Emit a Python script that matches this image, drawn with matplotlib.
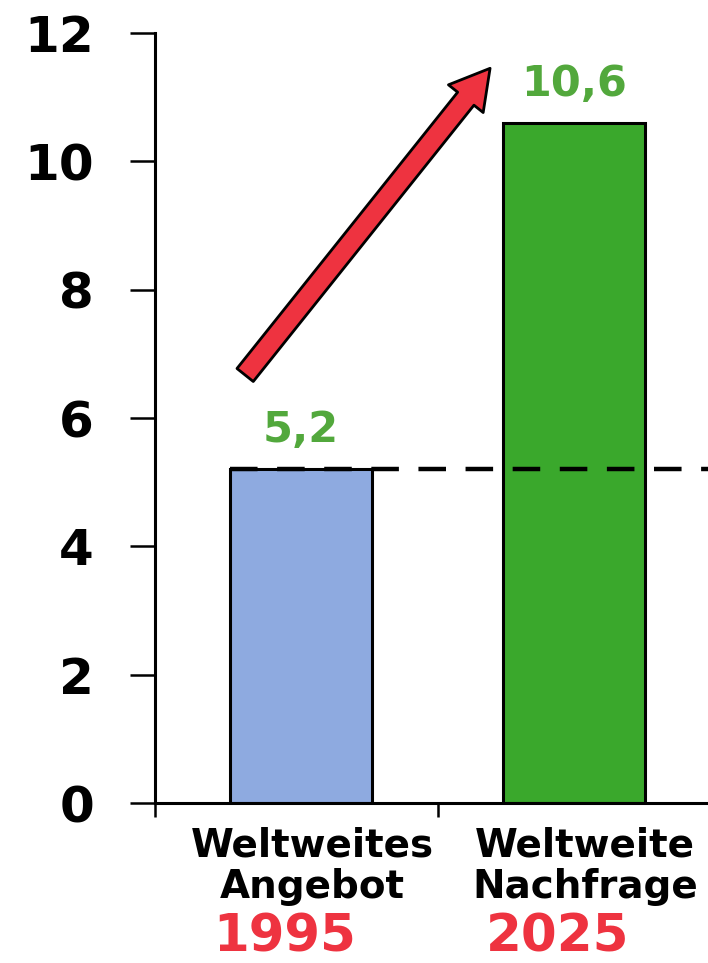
import matplotlib.pyplot as plt
from matplotlib.patches import FancyArrowPatch, ArrowStyle

# data
categories = ["Weltweites\nAngebot", "Weltweite\nNachfrage"]
years = ["1995", "2025"]
values = [5.2, 10.6]
value_labels = ["5,2", "10,6"]
yticks = [0, 2, 4, 6, 8, 10, 12]

bar_colors = ["#8eaae0", "#3aa82c"]
green_txt = "#52a83c"
red = "#ee3340"

fig = plt.figure(figsize=(7.08, 9.63), dpi=100)
ax = fig.add_axes([155 / 708, 1 - 803 / 963, 1 - 155 / 708, (803 - 33) / 963])

x = list(range(len(values)))
ax.bar(x, values, width=0.52, color=bar_colors, edgecolor="black", linewidth=2.2, zorder=2)

xlim = (-0.535, 1.49)
ax.set_xlim(*xlim)
ax.set_ylim(0, 12)

# dashed reference line at the 1995 level
ax.plot([x[0] - 0.26, xlim[1]], [values[0], values[0]], color="black", lw=3.2,
        dashes=(6.2, 4.4), zorder=3, solid_capstyle="butt")

for xi, v, lab in zip(x, values, value_labels):
    ax.annotate(lab, (xi, v), xytext=(0, 13), textcoords="offset points",
                ha="center", va="bottom", color=green_txt, fontsize=31,
                fontweight="bold", family="DejaVu Sans")

# category and year labels under the axis
for xi, cat, yr in zip(x, categories, years):
    ax.annotate(cat, (xi + 0.04, 0), xytext=(0, -17),
                textcoords="offset points", ha="center", va="top",
                fontsize=28, fontweight="bold", family="DejaVu Sans",
                linespacing=1.12, annotation_clip=False)
    ax.annotate(yr, (xi - 0.06, 0), xytext=(0, -79), textcoords="offset points",
                ha="center", va="top", fontsize=37, fontweight="bold",
                color=red, family="DejaVu Sans", annotation_clip=False)

# red growth arrow
arrow = FancyArrowPatch((-0.205, 6.67), (0.692, 11.45),
                        arrowstyle=ArrowStyle("Simple", head_length=28, head_width=32, tail_width=15),
                        mutation_scale=1, shrinkA=0, shrinkB=0,
                        facecolor=red, edgecolor="black", linewidth=2.0, zorder=4)
ax.add_patch(arrow)

# axes styling
for s in ["top", "right"]:
    ax.spines[s].set_visible(False)
ax.spines["left"].set_linewidth(2.2)
ax.spines["bottom"].set_linewidth(2.2)

ax.set_yticks(yticks)
ax.set_yticklabels([str(t) for t in yticks], fontsize=36, fontweight="bold",
                   family="DejaVu Sans")
ax.tick_params(axis="y", length=18, width=1.8, pad=26)
ax.set_xticks([xlim[0], 0.5])
ax.set_xticklabels(["", ""])
ax.tick_params(axis="x", length=10, width=1.8)

fig.savefig("out.png", dpi=100)
